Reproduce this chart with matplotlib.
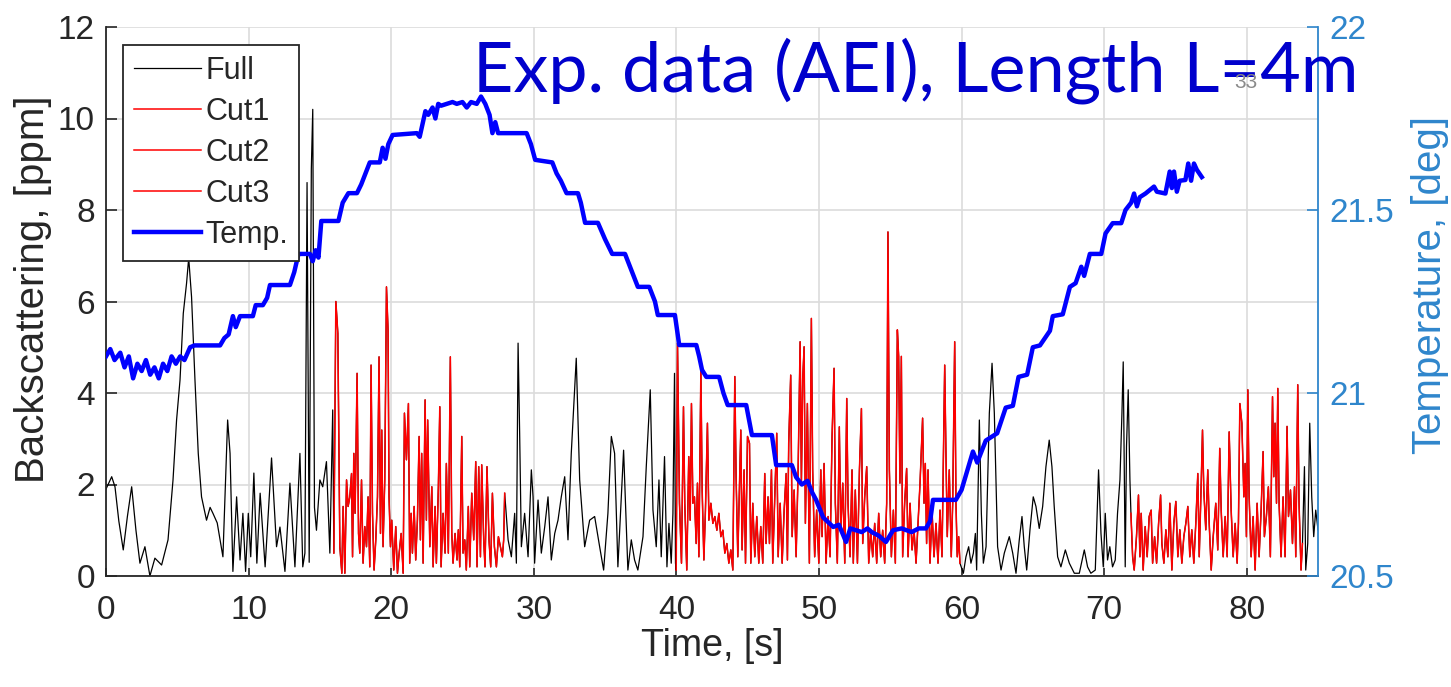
import matplotlib
matplotlib.use("Agg")
import matplotlib.pyplot as plt

plt.rcParams['font.family'] = ['Liberation Sans', 'DejaVu Sans']

# ---------------- data ----------------
# Full signal, black segments and red (cut) segments, in time order
seg_a_t = [0.0, 0.4, 0.63, 0.9, 1.21, 1.5, 1.8, 2.1, 2.38, 2.73, 3.08, 3.43, 3.9, 4.35, 4.7, 4.95, 5.19, 5.42, 5.65, 5.8,
           6.0, 6.24, 6.47, 6.7, 7.05, 7.3, 7.5, 7.8, 8.2, 8.53, 8.7, 8.9, 9.16, 9.4, 9.6, 9.79, 9.98, 10.15, 10.37, 10.58,
           10.81, 11.16, 11.61, 11.96, 12.2, 12.55, 12.9, 13.25, 13.6, 13.8, 13.95, 14.1, 14.25, 14.4, 14.5, 14.62, 14.76,
           15.0, 15.2, 15.46, 15.7, 15.9]
seg_a_y = [1.9, 2.17, 1.95, 1.2, 0.57, 1.3, 1.95, 1.0, 0.28, 0.64, 0.0, 0.39, 0.24, 0.79, 2.1, 3.41, 4.28, 5.74, 6.4, 6.95,
           6.1, 4.28, 2.68, 1.73, 1.22, 1.5, 1.37, 1.16, 0.42, 3.41, 2.68, 0.1, 1.73, 0.35, 1.37, 0.1, 1.37, 0.42, 2.25, 0.28,
           1.81, 0.2, 2.58, 0.64, 1.07, 0.1, 2.03, 0.2, 2.68, 0.2, 0.5, 8.6, 0.3, 8.9, 10.2, 1.5, 1.0,
           2.1, 1.95, 2.5, 0.5, 3.63]

cut1_t = [15.98, 16.12, 16.26, 16.40, 16.54, 16.63, 16.75, 16.87, 16.98, 17.10, 17.22, 17.29, 17.38, 17.47, 17.61, 17.71,
          17.80, 17.92, 18.03, 18.15, 18.27, 18.38, 18.50, 18.59, 18.69, 18.80, 18.92, 19.04, 19.15, 19.25, 19.34, 19.43,
          19.55, 19.67, 19.78, 19.85, 19.95, 20.04, 20.18, 20.32, 20.44, 20.56, 20.70, 20.84, 20.93, 21.07, 21.21, 21.30,
          21.40, 21.49, 21.61, 21.72, 21.84, 21.96, 22.05, 22.14, 22.24, 22.38, 22.47, 22.56, 22.71, 22.85, 22.94, 23.08,
          23.17, 23.31, 23.41, 23.50, 23.64, 23.78, 23.87, 24.01, 24.15, 24.25, 24.34, 24.48, 24.62, 24.71, 24.81, 24.95,
          25.04, 25.16, 25.27, 25.41, 25.51, 25.65, 25.79, 25.93, 26.02, 26.14, 26.26, 26.35, 26.49, 26.58, 26.72, 26.86,
          26.98, 27.10, 27.24, 27.38, 27.52, 27.66, 27.80, 27.89, 27.96]
cut1_y = [0.50, 6.00, 5.30, 0.64, 0.06, 1.52, 0.06, 2.10, 1.52, 1.73, 2.24, 0.42, 2.68, 1.37, 4.43, 0.93,
          0.50, 2.10, 0.28, 1.08, 0.64, 1.73, 0.20, 4.61, 1.37, 0.13, 0.79, 1.73, 4.79, 0.93, 3.19, 0.64,
          2.10, 6.32, 5.38, 1.73, 0.64, 1.22, 0.13, 1.08, 0.06, 0.50, 0.93, 0.06, 3.56, 2.54, 3.77, 0.28,
          1.37, 0.50, 1.52, 0.35, 1.22, 3.05, 0.79, 2.68, 0.28, 3.85, 1.22, 3.41, 0.64, 1.95, 0.20, 1.52,
          0.28, 1.95, 3.70, 0.20, 1.37, 0.50, 2.46, 0.50, 4.79, 0.93, 0.28, 0.93, 0.35, 1.01, 0.20, 3.05,
          0.50, 0.79, 0.13, 1.52, 0.20, 1.81, 0.79, 2.50, 0.20, 2.39, 0.42, 2.43, 0.79, 0.20, 2.39, 0.79,
          0.20, 1.81, 0.64, 0.20, 0.86, 0.64, 0.42, 0.79, 1.81]

seg_c_t = [28.2, 28.43, 28.66, 28.78, 28.9, 29.01, 29.13, 29.36, 29.6, 29.83, 29.95, 30.06, 30.3, 30.53, 30.77, 31.0,
           31.23, 31.47, 31.7, 31.93, 32.17, 32.4, 32.63, 32.98, 33.22, 33.57, 33.92, 34.27, 34.62, 34.9, 35.2, 35.44,
           35.67, 35.9, 36.14, 36.3, 36.6, 36.84, 37.07, 37.3, 37.66, 37.89, 38.17, 38.36, 38.59, 38.78, 38.94, 39.17,
           39.34, 39.48, 39.64, 39.76, 39.87, 39.94]
seg_c_y = [0.79, 0.42, 1.37, 0.28, 5.09, 3.12, 0.64, 1.37, 0.42, 2.32, 1.73, 0.28, 1.66, 0.50, 1.08, 1.73,
           0.35, 0.93, 1.22, 1.73, 2.17, 0.79, 2.68, 4.76, 2.10, 0.64, 1.22, 1.30, 0.64, 0.13, 1.37, 3.05,
           2.68, 0.20, 1.73, 2.75, 0.13, 0.79, 0.35, 0.13, 0.86, 2.39, 4.07, 1.44, 0.64, 2.10, 0.42, 2.61,
           0.20, 1.15, 0.28, 1.37, 4.43, 0.28]

cut2_t = [39.99, 40.08, 40.22, 40.36, 40.5, 40.59, 40.73, 40.87, 40.97, 41.06,
          41.16, 41.27, 41.39, 41.48, 41.58, 41.72, 41.81, 41.93, 42.04, 42.18,
          42.28, 42.42, 42.56, 42.7, 42.84, 42.98, 43.12, 43.26, 43.4, 43.54,
          43.68, 43.82, 43.96, 44.1, 44.19, 44.31, 44.43, 44.52, 44.61, 44.75,
          44.85, 44.99, 45.13, 45.22, 45.36, 45.5, 45.64, 45.78, 45.92, 46.06,
          46.2, 46.29, 46.43, 46.53, 46.67, 46.76, 46.9, 47.04, 47.14, 47.28,
          47.42, 47.56, 47.7, 47.79, 47.88, 48.02, 48.12, 48.26, 48.4, 48.54,
          48.68, 48.77, 48.86, 48.96, 49.05, 49.19, 49.33, 49.47, 49.56, 49.7,
          49.84, 49.99, 50.13, 50.22, 50.36, 50.5, 50.64, 50.78, 50.92, 51.06,
          51.15, 51.29, 51.43, 51.53, 51.67, 51.81, 51.95, 52.04, 52.18, 52.32,
          52.41, 52.55, 52.7, 52.84, 52.98, 53.07, 53.21, 53.35, 53.49, 53.63,
          53.77, 53.91, 54.05, 54.19, 54.33, 54.47, 54.61, 54.75, 54.84, 54.94,
          55.08, 55.22, 55.36, 55.5, 55.59, 55.68, 55.78, 55.87, 56.01, 56.15,
          56.25, 56.39, 56.53, 56.67, 56.81, 56.95, 57.09, 57.18, 57.27, 57.37,
          57.46, 57.55, 57.65, 57.79, 57.93, 58.07, 58.21, 58.35, 58.49, 58.63,
          58.82, 58.91, 59.0, 59.14, 59.28, 59.38, 59.52, 59.61, 59.7, 59.8,
          59.89]
cut2_y = [0.13, 5.09, 1.59, 0.28, 3.70, 1.59, 0.13, 2.61, 1.22, 3.77,
          1.59, 1.73, 0.71, 2.03, 0.42, 4.50, 1.88, 0.35, 1.44, 3.34,
          1.22, 1.59, 1.15, 1.30, 1.00, 1.37, 0.86, 1.00, 0.50, 0.71,
          0.28, 0.57, 0.13, 4.36, 2.17, 0.42, 2.03, 3.19, 0.57, 2.32,
          0.28, 3.05, 2.90, 0.28, 1.59, 0.42, 1.30, 0.28, 1.08, 0.28,
          2.24, 0.71, 1.73, 0.71, 2.32, 0.28, 1.73, 3.12, 0.42, 1.59,
          0.28, 1.44, 2.24, 0.35, 2.90, 4.39, 0.86, 1.88, 0.42, 2.32,
          5.12, 2.03, 4.29, 5.01, 1.15, 3.77, 0.28, 5.63, 2.32, 0.42,
          1.44, 0.28, 2.32, 0.86, 2.46, 0.28, 1.30, 0.42, 3.05, 4.54,
          1.59, 0.28, 3.26, 1.00, 2.03, 0.28, 3.88, 1.59, 0.42, 2.32,
          0.28, 1.88, 0.28, 2.32, 3.66, 0.71, 1.73, 2.39, 0.28, 1.00,
          0.42, 1.15, 0.28, 1.37, 0.42, 1.00, 0.28, 1.59, 7.52, 2.32,
          0.42, 1.44, 0.28, 5.38, 4.80, 2.03, 4.80, 0.42, 1.59, 2.35,
          0.42, 1.59, 0.57, 1.00, 0.28, 1.15, 2.03, 2.72, 3.45, 1.59,
          2.46, 0.71, 2.32, 0.28, 1.44, 0.42, 1.15, 0.28, 1.44, 0.42,
          4.61, 2.61, 0.86, 2.32, 0.42, 1.59, 5.12, 1.59, 0.42, 0.86,
          0.28]

seg_e_t = [60.13, 60.31, 60.5, 60.66, 60.83, 60.97, 61.06, 61.25, 61.39, 61.53, 61.72, 61.95, 62.14, 62.3, 62.53,
           62.77, 63.0, 63.35, 63.59, 63.82, 64.05, 64.24, 64.4, 64.57, 64.8, 65.03, 65.22, 65.45, 65.69, 65.92,
           66.15, 66.34, 66.5, 66.74, 66.97, 67.28, 67.56, 67.91, 68.26, 68.61, 68.84, 69.07, 69.38, 69.61, 69.78,
           69.94, 70.08, 70.24, 70.4, 70.59, 70.78, 70.94, 71.11, 71.25, 71.34, 71.48, 71.57, 71.69, 71.81]
seg_e_y = [0.06, 0.42, 0.64, 0.28, 0.50, 0.93, 0.13, 3.41, 1.37, 0.28, 0.64, 3.56, 4.65, 3.56, 0.64,
           0.13, 0.50, 0.86, 0.50, 0.06, 0.79, 1.30, 0.64, 0.13, 1.01, 1.73, 1.52, 1.04, 1.52, 2.39,
           2.97, 2.39, 1.52, 0.42, 0.20, 0.57, 0.28, 0.06, 0.06, 0.57, 0.20, 0.06, 0.13, 2.32, 0.93,
           0.20, 1.37, 0.35, 0.64, 0.20, 0.35, 1.37, 2.10, 3.56, 4.68, 0.20, 2.83, 4.07, 2.10]

cut3_t = [71.88, 72.0, 72.11, 72.27, 72.41, 72.51, 72.6, 72.74, 72.88, 73.02, 73.16, 73.3, 73.4, 73.54, 73.68,
          73.82, 73.96, 74.05, 74.19, 74.33, 74.47, 74.61, 74.75, 74.89, 75.03, 75.17, 75.31, 75.45, 75.59, 75.73,
          75.87, 76.01, 76.15, 76.29, 76.43, 76.57, 76.67, 76.81, 76.9, 76.99, 77.13, 77.27, 77.37, 77.51, 77.65,
          77.83, 77.97, 78.11, 78.21, 78.35, 78.49, 78.63, 78.77, 78.91, 79.05, 79.19, 79.33, 79.42, 79.52, 79.66,
          79.8, 79.89, 79.98, 80.08, 80.17, 80.31, 80.45, 80.59, 80.73, 80.87, 81.01, 81.15, 81.24, 81.38, 81.52,
          81.66, 81.81, 81.9, 81.99, 82.09, 82.18, 82.27, 82.41, 82.55, 82.69, 82.83, 82.93, 83.07, 83.21, 83.35,
          83.44, 83.58, 83.67, 83.81, 83.91]
cut3_y = [1.37, 0.42, 0.13, 0.86, 1.77, 0.42, 1.37, 0.13, 1.08, 0.42, 1.30, 1.44, 0.28, 0.86, 0.28,
          1.15, 1.77, 0.71, 0.28, 1.01, 0.42, 1.59, 0.13, 1.15, 1.63, 0.42, 1.01, 0.28, 0.86, 1.15,
          1.52, 0.42, 1.01, 0.28, 1.15, 2.24, 0.42, 2.03, 3.19, 1.88, 1.01, 2.32, 1.15, 0.13, 0.86,
          1.59, 0.57, 2.79, 1.44, 0.42, 1.30, 0.42, 3.15, 1.44, 0.42, 1.15, 0.28, 1.15, 3.77, 3.34,
          1.73, 2.46, 0.86, 4.07, 1.73, 0.42, 1.30, 0.13, 1.59, 0.42, 1.44, 2.72, 0.86, 1.30, 1.95,
          0.42, 3.92, 2.17, 3.34, 1.59, 4.10, 1.59, 0.42, 1.73, 0.42, 3.27, 1.30, 1.88, 0.71, 1.95,
          0.42, 4.18, 1.59, 0.13, 0.71]

seg_g_t = [84.05, 84.14, 84.28, 84.42, 84.56, 84.7, 84.84, 85.0]
seg_g_y = [2.39, 0.13, 0.71, 3.34, 1.73, 0.86, 1.44, 1.01]

temp_t = [0.0, 0.3, 0.6, 1.0, 1.3, 1.6, 1.9, 2.2, 2.5, 2.8,
          3.1, 3.4, 3.7, 4.0, 4.3, 4.6, 4.9, 5.2, 5.5, 5.9,
          6.2, 8.0, 8.3, 8.6, 8.9, 9.1, 9.4, 10.3, 10.5, 11.0,
          11.3, 11.5, 12.9, 13.2, 13.5, 14.3, 14.5, 14.7, 14.9, 15.1,
          16.3, 16.6, 17.0, 17.6, 17.9, 18.2, 18.5, 19.2, 19.4, 19.6,
          19.8, 20.1, 21.8, 22.0, 22.4, 22.6, 22.9, 23.1, 23.3, 23.5,
          23.9, 24.3, 24.6, 25.0, 25.3, 25.6, 26.0, 26.3, 26.6, 26.9,
          27.1, 27.3, 27.5, 29.5, 29.8, 30.1, 31.3, 31.6, 31.9, 32.3,
          33.1, 33.3, 33.6, 34.5, 35.0, 35.5, 36.4, 36.8, 37.3, 38.1,
          38.5, 38.7, 39.9, 40.2, 41.4, 41.6, 41.8, 42.1, 43.0, 43.3,
          43.6, 44.9, 45.3, 46.7, 47.0, 48.1, 48.4, 48.8, 49.2, 49.5,
          49.8, 50.3, 51.0, 51.4, 51.9, 52.2, 52.6, 53.0, 53.4, 53.7,
          54.2, 54.7, 55.2, 55.8, 56.5, 57.0, 57.5, 57.8, 58.0, 59.6,
          60.0, 60.5, 60.8, 61.1, 61.7, 62.5, 63.1, 63.6, 64.0, 64.6,
          65.0, 65.5, 66.2, 66.4, 67.1, 67.6, 68.0, 68.4, 68.6, 69.0,
          69.8, 70.1, 70.6, 71.2, 71.5, 71.9, 72.1, 72.3, 72.5, 72.9,
          73.5, 73.7, 74.3, 74.6, 74.75, 74.9, 75.1, 75.3, 75.7, 75.9,
          76.1, 76.3, 76.5, 76.85]
temp_v = [21.10, 21.12, 21.09, 21.11, 21.07, 21.10, 21.04, 21.08, 21.06, 21.09,
          21.05, 21.07, 21.04, 21.08, 21.06, 21.10, 21.08, 21.10, 21.09, 21.125,
          21.13, 21.13, 21.15, 21.16, 21.21, 21.18, 21.21, 21.21, 21.24, 21.24,
          21.26, 21.295, 21.295, 21.33, 21.38, 21.38, 21.36, 21.39, 21.37, 21.47,
          21.47, 21.52, 21.546, 21.546, 21.57, 21.60, 21.63, 21.63, 21.67, 21.64,
          21.68, 21.705, 21.71, 21.70, 21.77, 21.76, 21.78, 21.75, 21.79, 21.785,
          21.79, 21.795, 21.79, 21.795, 21.78, 21.795, 21.79, 21.81, 21.79, 21.76,
          21.71, 21.74, 21.71, 21.71, 21.68, 21.637, 21.63, 21.60, 21.58, 21.546,
          21.546, 21.52, 21.465, 21.465, 21.42, 21.38, 21.38, 21.34, 21.29, 21.29,
          21.25, 21.213, 21.213, 21.131, 21.131, 21.10, 21.063, 21.044, 21.044, 21.00,
          20.967, 20.967, 20.885, 20.885, 20.803, 20.803, 20.77, 20.75, 20.76, 20.73,
          20.708, 20.66, 20.634, 20.64, 20.593, 20.63, 20.625, 20.62, 20.63, 20.62,
          20.61, 20.593, 20.625, 20.63, 20.62, 20.63, 20.63, 20.65, 20.708, 20.708,
          20.735, 20.80, 20.84, 20.81, 20.87, 20.89, 20.96, 20.965, 21.044, 21.05,
          21.125, 21.13, 21.17, 21.21, 21.215, 21.29, 21.30, 21.345, 21.32, 21.38,
          21.38, 21.436, 21.464, 21.464, 21.50, 21.52, 21.545, 21.51, 21.535, 21.545,
          21.564, 21.55, 21.545, 21.605, 21.56, 21.605, 21.55, 21.58, 21.582, 21.627,
          21.58, 21.627, 21.61, 21.59]

full_t = seg_a_t + cut1_t + seg_c_t + cut2_t + seg_e_t + cut3_t + seg_g_t
full_y = seg_a_y + cut1_y + seg_c_y + cut2_y + seg_e_y + cut3_y + seg_g_y

legend_labels = ["Full", "Cut1", "Cut2", "Cut3", "Temp."]
x_ticks = [0, 10, 20, 30, 40, 50, 60, 70, 80]
y_ticks = [0, 2, 4, 6, 8, 10, 12]
t_ticks = [20.5, 21, 21.5, 22]

# ---------------- styling ----------------
W, H = 1451, 687
dark = '#262626'
axis_blue = '#2f86cc'

fig = plt.figure(figsize=(W / 100, H / 100), dpi=100)
ax = fig.add_axes([106 / W, 111 / H, 1212 / W, 549 / H])
ax2 = ax.twinx()

l_full, = ax.plot(full_t, full_y, color='black', lw=0.9)
l_c1, = ax.plot(cut1_t, cut1_y, color='red', lw=1.1)
l_c2, = ax.plot(cut2_t, cut2_y, color='red', lw=1.1)
l_c3, = ax.plot(cut3_t, cut3_y, color='red', lw=1.1)
l_temp, = ax2.plot(temp_t, temp_v, color='blue', lw=3.2)

ax.set_xlim(0, 85)
ax.set_ylim(0, 12)
ax2.set_ylim(20.5, 22)
ax.set_xticks(x_ticks)
ax.set_yticks(y_ticks)
ax2.set_yticks(t_ticks)
ax2.set_yticklabels(['20.5', '21', '21.5', '22'])

ax.grid(True, color='#dcdcdc', lw=1.2)
ax.set_axisbelow(True)

for a in (ax, ax2):
    a.spines['top'].set_visible(False)
ax.spines['right'].set_visible(False)
ax.spines['left'].set_color(dark)
ax.spines['bottom'].set_color(dark)
ax2.spines['left'].set_visible(False)
ax2.spines['bottom'].set_visible(False)
ax2.spines['right'].set_color(axis_blue)
for s in ('left', 'bottom'):
    ax.spines[s].set_linewidth(1.3)
ax2.spines['right'].set_linewidth(1.3)

ax.tick_params(axis='x', direction='in', length=6, width=1.2, pad=14, labelsize=24,
               colors=dark)
ax.tick_params(axis='y', direction='in', length=8, width=1.2, pad=8, labelsize=24,
               colors=dark)
ax2.tick_params(axis='y', direction='in', length=8, width=1.2, pad=8, labelsize=24,
                colors=axis_blue)

ax.set_xlabel('Time, [s]', fontsize=27, color=dark, va='center')
ax.xaxis.set_label_coords(0.5, -0.1275)
ax.set_ylabel('Backscattering, [ppm]', fontsize=29, color=dark, va='center', ha='center')
ax.yaxis.set_label_coords(-0.060, 0.523)
ax2.set_ylabel('Temperature, [deg]', fontsize=29, color=axis_blue, va='center', ha='center',
               rotation=90)
ax2.yaxis.set_label_coords(1.0924, 0.530)

leg = ax2.legend([l_full, l_c1, l_c2, l_c3, l_temp], legend_labels,
                 loc='upper left', bbox_to_anchor=(0.014, 0.967), borderaxespad=0,
                 fontsize=22, frameon=True, fancybox=False, framealpha=1,
                 edgecolor=dark, handlelength=2.2, handletextpad=0.15,
                 labelspacing=0.36, borderpad=0.35)
leg.get_frame().set_linewidth(1.3)
for txt in leg.get_texts():
    txt.set_color(dark)

fig.text(473 / W, 1 - 91 / H, 'Exp. data (AEI), Length L=4m', fontsize=50.5,
         color='#0000CC', family=['Lato', 'DejaVu Sans'], va='baseline', ha='left')
fig.text(1246 / W, 1 - 83 / H, '33', fontsize=15, color='#8a8a8a', ha='center', va='center')

fig.savefig('out.png', dpi=100)
